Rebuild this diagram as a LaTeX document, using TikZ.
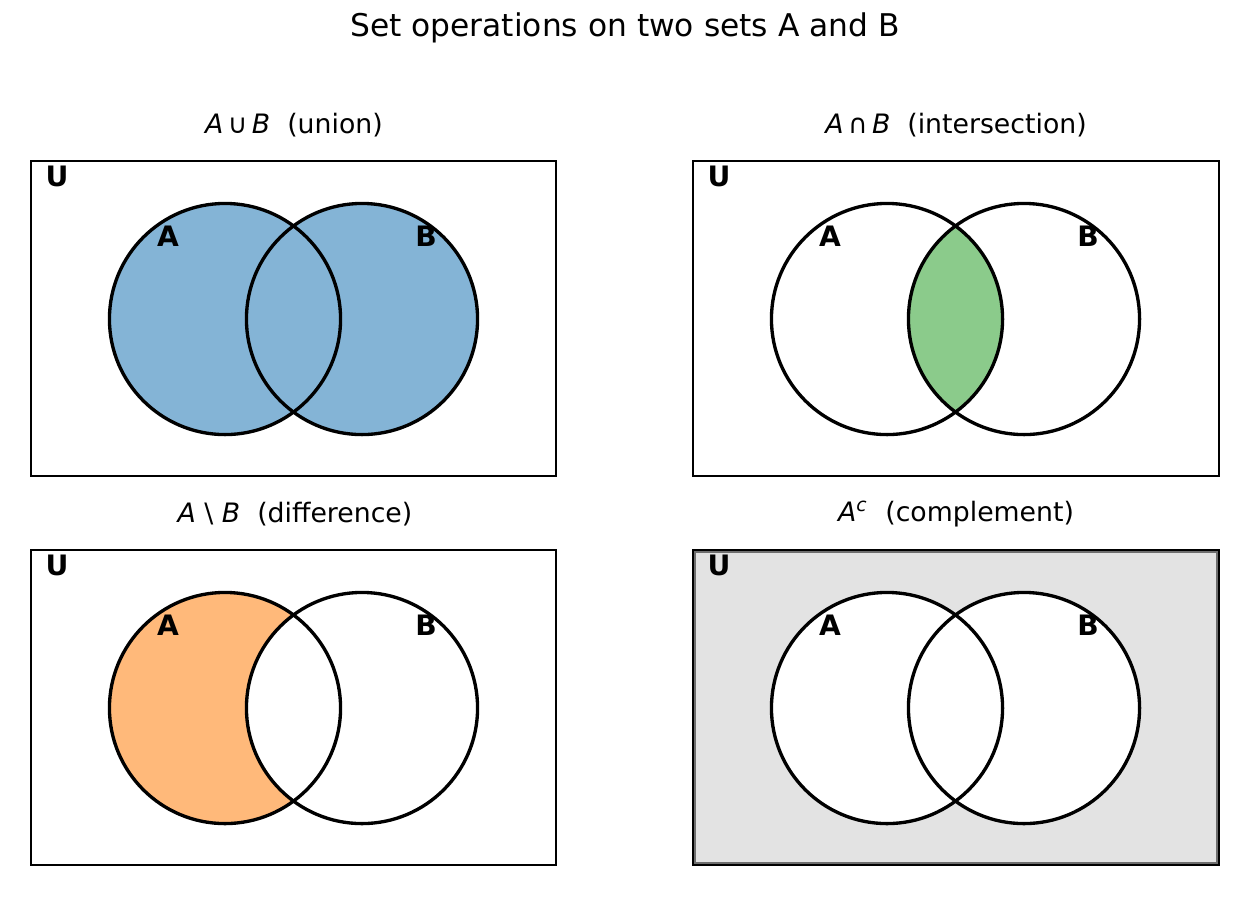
\documentclass[tikz,border=0pt]{standalone}
\usepackage{fontspec}
\setmainfont{DejaVu Sans}
\definecolor{unionblue}{RGB}{132,180,214}
\definecolor{intergreen}{RGB}{139,203,139}
\definecolor{difforange}{RGB}{255,185,122}
\definecolor{compgray}{RGB}{227,227,227}
\definecolor{edgegray}{RGB}{110,110,110}
\tikzset{
	setcirc/.style={line width=0.95pt},
	universe/.style={line width=0.75pt},
	setlbl/.style={font=\fontsize{8}{9}\selectfont\bfseries},
	paneltitle/.style={font=\fontsize{7.6}{9}\selectfont},
}

\begin{document}
\begin{tikzpicture}[x=0.01cm,y=-0.01cm]
		
		\useasboundingbox (0,0) rectangle (1249,896);
		\node[font=\fontsize{8.9}{10}\selectfont] (title) at (625,28) {Set operations on two sets A and B};
		
		% union
		\draw[universe] (31,161) rectangle (556,476);
		\fill[unionblue] (225,319) circle[radius=1.155cm] (362,319) circle[radius=1.155cm];
		\draw[setcirc] (225,319) circle[radius=1.155cm];
		\draw[setcirc] (362,319) circle[radius=1.155cm];
		\node[paneltitle] (tunion) at (294,125) {\textit{A}\,∪\,\textit{B}\ \ (union)};
		\node[setlbl] (u1) at (57,176) {U};
		\node[setlbl] (a1) at (168,236) {A};
		\node[setlbl] (b1) at (426,236) {B};
		
		% intersection
		\draw[universe] (693,161) rectangle (1219,476);
		\begin{scope}
			\clip (887,319) circle[radius=1.155cm];
			\fill[intergreen] (1024,319) circle[radius=1.155cm];
		\end{scope}
		\draw[setcirc] (887,319) circle[radius=1.155cm];
		\draw[setcirc] (1024,319) circle[radius=1.155cm];
		\node[paneltitle] (tinter) at (956,125) {\textit{A}\,∩\,\textit{B}\ \ (intersection)};
		\node[setlbl] (u2) at (719,176) {U};
		\node[setlbl] (a2) at (830,236) {A};
		\node[setlbl] (b2) at (1088,236) {B};
		
		% difference
		\draw[universe] (31,550) rectangle (556,865);
		\fill[difforange] (225,708) circle[radius=1.155cm];
		\fill[white] (362,708) circle[radius=1.155cm];
		\draw[setcirc] (225,708) circle[radius=1.155cm];
		\draw[setcirc] (362,708) circle[radius=1.155cm];
		\node[paneltitle] (tdiff) at (295,514) {\textit{A}\ \textbackslash\ \textit{B}\ \ (difference)};
		\node[setlbl] (u3) at (57,565) {U};
		\node[setlbl] (a3) at (168,625) {A};
		\node[setlbl] (b3) at (426,625) {B};
		
		% complement
		\draw[universe,fill=compgray] (693,550) rectangle (1219,865);
		\draw[line width=0.55pt,edgegray] (695,552) rectangle (1217,863);
		\fill[white] (887,708) circle[radius=1.155cm] (1024,708) circle[radius=1.155cm];
		\draw[setcirc] (887,708) circle[radius=1.155cm];
		\draw[setcirc] (1024,708) circle[radius=1.155cm];
		\node[paneltitle] (tcomp) at (956,514) {\textit{A}\textsuperscript{\textit{c}}\ \ (complement)};
		\node[setlbl] (u4) at (719,565) {U};
		\node[setlbl] (a4) at (830,625) {A};
		\node[setlbl] (b4) at (1088,625) {B};
		
	\end{tikzpicture}
\end{document}
